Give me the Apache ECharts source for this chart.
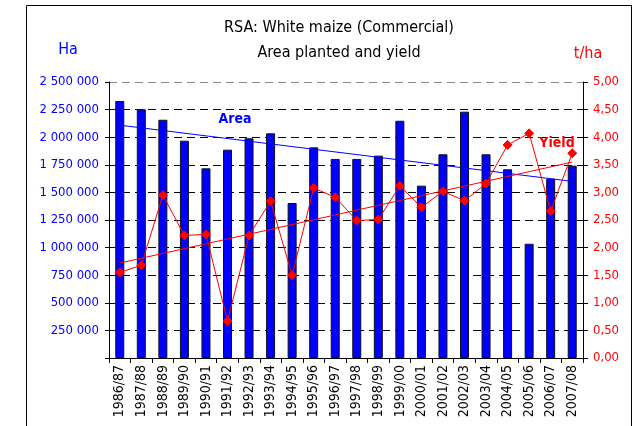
<!DOCTYPE html>
<html><head><meta charset="utf-8">
<script src="https://cdn.jsdelivr.net/npm/echarts@6/dist/echarts.min.js"></script>
<style>html,body{margin:0;padding:0;background:#fff}#c{width:641px;height:426px}</style>
</head><body><div id="c"></div>
<script>
const categories = ['1986/87','1987/88','1988/89','1989/90','1990/91','1991/92','1992/93','1993/94','1994/95','1995/96','1996/97','1997/98','1998/99','1999/00','2000/01','2001/02','2002/03','2003/04','2004/05','2005/06','2006/07','2007/08'];
const areaHa = [2328000,2253000,2158000,1968000,1718000,1887000,1990000,2035000,1404000,1908000,1803000,1803000,1833000,2149000,1561000,1845000,2231000,1845000,1709000,1035000,1624000,1742000];
const yieldTha = [1.55,1.68,2.95,2.22,2.24,0.67,2.22,2.84,1.50,3.08,2.91,2.49,2.51,3.12,2.73,3.02,2.85,3.16,3.86,4.07,2.66,3.71];
const areaTrendEnds = [2109000, 1600000];
const yieldTrendEnds = [1.72, 3.55];
const leftTickLabels = ['','250 000','500 000','750 000','1 000 000','1 250 000','1 500 000','1 750 000','2 000 000','2 250 000','2 500 000'];
const rightTickLabels = ['0,00','0,50','1,00','1,50','2,00','2,50','3,00','3,50','4,00','4,50','5,00'];

const FONT = '"DejaVu Sans Condensed", "DejaVu Sans", sans-serif';
const last = categories.length - 1;
const gridColors = ['#000','#000','#000','#000','#000','#000','#000','#000','#000','#000','#888'];

const chart = echarts.init(document.getElementById('c'), null, {renderer:'canvas'});
chart.setOption({
  backgroundColor: '#fff',
  animation: false,
  title: {
    text: 'RSA: White maize (Commercial)\nArea planted and yield',
    left: 334, top: 10, textAlign: 'center',
    textStyle: {fontFamily: FONT, fontSize: 16, fontWeight: 'normal', color: '#000', lineHeight: 25}
  },
  grid: {left: 109, right: 58, top: 82, bottom: 68, containLabel: false},
  xAxis: {
    type: 'category', data: categories, boundaryGap: true,
    axisLine: {lineStyle: {color: '#000', width: 1}},
    axisTick: {show: true, length: 5, lineStyle: {color: '#000'}},
    axisLabel: {rotate: 90, fontFamily: FONT, fontSize: 14, color: '#000', margin: 7, interval: 0}
  },
  yAxis: [
    {
      type: 'value', min: 0, max: 2500000, interval: 250000,
      name: 'Ha', nameLocation: 'end', nameGap: 24,
      nameTextStyle: {fontFamily: FONT, fontSize: 16, color: '#0000FF', align: 'center', padding: [0, 0, 0, -82]},
      axisLine: {show: true, lineStyle: {color: '#000'}},
      axisTick: {show: true, length: 4, lineStyle: {color: '#000'}},
      axisLabel: {fontFamily: FONT, fontSize: 13, color: '#0000FF', margin: 10,
        formatter: (v) => leftTickLabels[Math.round(v / 250000)]},
      splitLine: {show: true, lineStyle: {color: gridColors, type: [8, 5], width: 1}}
    },
    {
      type: 'value', min: 0, max: 5, interval: 0.5, position: 'right',
      name: 't/ha', nameLocation: 'end', nameGap: 20,
      nameTextStyle: {fontFamily: FONT, fontSize: 16, color: '#FF0000', padding: [0, 0, 0, 10]},
      axisLine: {show: true, lineStyle: {color: '#000'}},
      axisTick: {show: true, length: 5, lineStyle: {color: '#000'}},
      axisLabel: {fontFamily: FONT, fontSize: 13, color: '#FF0000', margin: 10,
        formatter: (v) => rightTickLabels[Math.round(v / 0.5)]},
      splitLine: {show: false}
    }
  ],
  series: [
    {
      name: 'Area', type: 'bar', data: areaHa, yAxisIndex: 0, barWidth: 9,
      itemStyle: {color: '#0000FF', borderColor: '#111', borderWidth: 1}
    },
    {
      name: 'AreaTrend', type: 'line', yAxisIndex: 0, symbol: 'none',
      data: [[0, areaTrendEnds[0]], [last, areaTrendEnds[1]]],
      lineStyle: {color: '#0000FF', width: 1}, z: 3
    },
    {
      name: 'YieldTrend', type: 'line', yAxisIndex: 1, symbol: 'none',
      data: [[0, yieldTrendEnds[0]], [last, yieldTrendEnds[1]]],
      lineStyle: {color: '#FF0000', width: 1}, z: 4
    },
    {
      name: 'Yield', type: 'line', yAxisIndex: 1, data: yieldTha,
      symbol: 'diamond', symbolSize: 9, showSymbol: true,
      lineStyle: {color: '#FF0000', width: 1},
      itemStyle: {color: '#FF0000', borderColor: '#FF0000'}, z: 5
    }
  ],
  graphic: [
    {type: 'rect', shape: {x: 26.5, y: 5.5, width: 605, height: 500},
     style: {fill: 'none', stroke: '#000', lineWidth: 1}, silent: true, z: -1},
    {type: 'text', x: 235, y: 119, style: {text: 'Area', fill: '#0000FF', font: 'bold 14px ' + FONT, textAlign: 'center', textVerticalAlign: 'middle'}, z: 10},
    {type: 'text', x: 557, y: 143, style: {text: 'Yield', fill: '#FF0000', font: 'bold 14px ' + FONT, textAlign: 'center', textVerticalAlign: 'middle'}, z: 10}
  ]
});
</script></body></html>
